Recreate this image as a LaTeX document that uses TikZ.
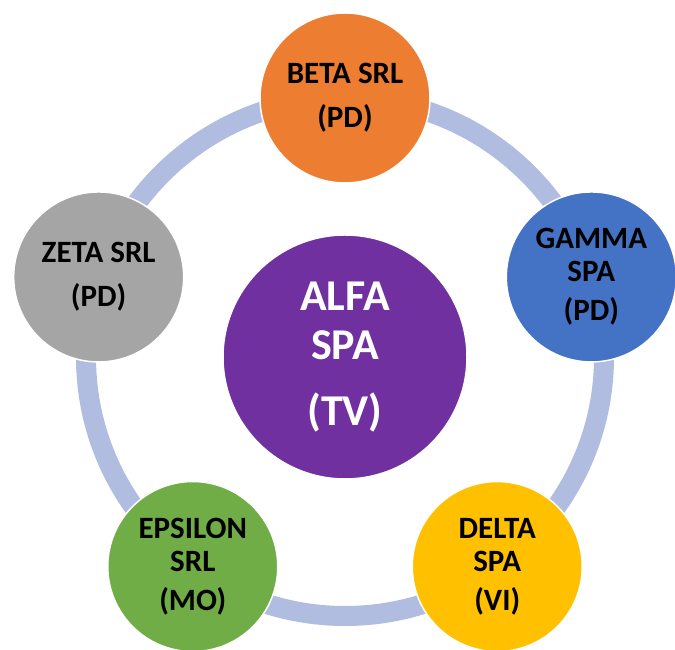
\documentclass[tikz,border=0pt]{standalone}
\usepackage{fontspec}
\setmainfont{Carlito}
\definecolor{ringblue}{RGB}{176,188,224}
\definecolor{alfapurple}{RGB}{112,48,160}
\definecolor{betaorange}{RGB}{237,125,49}
\definecolor{gammablue}{RGB}{68,114,196}
\definecolor{deltagold}{RGB}{255,192,0}
\definecolor{epsgreen}{RGB}{112,173,71}
\definecolor{zetagray}{RGB}{165,165,165}
\begin{document}
\begin{tikzpicture}[x=1pt,y=1pt,
		ring/.style={draw=ringblue,line width=20pt},
		firm/.style={circle,draw=white,line width=1.5pt,minimum size=170pt,
			inner sep=0pt,align=center,font=\fontsize{31}{33}\selectfont\bfseries},
		head/.style={firm,minimum size=244pt,text=white,
			font=\fontsize{44}{49}\selectfont\bfseries}]
			\useasboundingbox (0,0) rectangle (675,650);
			\coordinate (o) at (345,293);
			\draw[ring] (o) circle (259pt);
			\node[head,fill=alfapurple] (alfa) at (o)
			{ALFA\\SPA\\[17pt](TV)};
			\node[firm,fill=betaorange] (beta) at ([shift={(90:259)}]o)
			{BETA SRL\\[11pt](PD)};
			\node[firm,fill=gammablue] (gamma) at ([shift={(18:259)}]o)
			{GAMMA\\SPA\\[6pt](PD)};
			\node[firm,fill=deltagold] (delta) at ([shift={(-54:259)}]o)
			{DELTA\\SPA\\[6pt](VI)};
			\node[firm,fill=epsgreen] (epsilon) at ([shift={(-126:259)}]o)
			{EPSILON\\SRL\\[6pt](MO)};
			\node[firm,fill=zetagray] (zeta) at ([shift={(162:259)}]o)
			{ZETA SRL\\[11pt](PD)};
		\end{tikzpicture}
\end{document}
